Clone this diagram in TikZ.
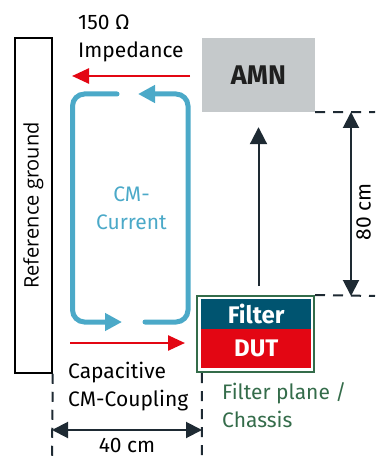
\documentclass[tikz,border=0pt]{standalone}
\usepackage{fontspec}
\setmainfont{Fira Sans}
\newfontfamily\groundfont{Open Sans}
\usepackage{graphicx}
\usetikzlibrary{positioning}
\usetikzlibrary{calc}
\usetikzlibrary{arrows.meta}
\definecolor{cmblue}{RGB}{75,169,200}
\definecolor{sigred}{RGB}{227,6,19}
\definecolor{amngray}{RGB}{197,201,203}
\definecolor{filterteal}{RGB}{0,84,112}
\definecolor{planegreen}{RGB}{52,108,74}
\definecolor{dimdark}{RGB}{30,42,51}

\tikzset{
    lbl/.style={font=\fontsize{21}{28}\selectfont, inner sep=0pt, align=left},
    boxlbl/.style={font=\bfseries\fontsize{24}{28}\selectfont, inner sep=0pt},
    guide/.style={dimdark, line width=2pt, dash pattern=on 10pt off 8pt},
    dimarrow/.style={dimdark, line width=2pt, {Triangle[length=16pt,width=16pt]}-{Triangle[length=16pt,width=16pt]}},
    uparrow/.style={dimdark, line width=2pt, -{Triangle[length=17pt,width=17pt]}},
    redarrow/.style={sigred, line width=2.5pt, -{Triangle[length=17pt,width=15pt]}},
    cmloop/.style={cmblue, line width=5pt, rounded corners=12pt, line cap=round, -{Triangle[length=17pt,width=17pt]}}
}

\begin{document}
\begin{tikzpicture}[x=1pt,y=-1pt]
    \useasboundingbox (0,0) rectangle (375,457);

    % reference ground plate
    \node[draw=black, line width=1.5pt, minimum width=37pt, minimum height=335pt, inner sep=0pt] (ground) at (33.5,205.5)
        {\rotatebox{90}{\groundfont\fontsize{20}{24}\selectfont Reference ground}};

    % AMN
    \node[boxlbl, font=\bfseries\fontsize{27}{30}\selectfont, fill=amngray, text=black!88, minimum width=113pt, minimum height=74pt] (amn) at (258.5,75) {AMN};

    % filter plane with filter and DUT on it
    \node[draw=planegreen, line width=2pt, minimum width=117pt, minimum height=76pt] (plane) at (255.5,334) {};
    \node[boxlbl, fill=filterteal, text=white, minimum width=110pt, minimum height=30pt] (filter) at (256.25,314) {Filter};
    \node[boxlbl, fill=sigred, text=white, minimum width=110pt, minimum height=39pt] (dut) at (256.25,348.5) {DUT};
    \node[lbl, anchor=north west, text=planegreen] (chassis) at (222,382) {Filter plane /\\Chassis};

    \draw[uparrow, shorten <=9pt, shorten >=15pt] (amn.south |- plane.north) -- (amn.south);

    % 80 cm between AMN and filter plane
    \coordinate (rimtop) at (375,112);
    \coordinate (rimbot) at (375,296);
    \coordinate (topdim) at (351,112);
    \coordinate (botdim) at (351,296);
    \draw[guide] (amn.south east) -- (rimtop);
    \draw[guide] (plane.north east) -- (rimbot);
    \draw[dimarrow] (topdim) -- (botdim);
    \node[lbl, rotate=90, anchor=base] (eighty) at (370.5,212) {80 cm};

    % 40 cm to the reference ground
    \coordinate (gndfoot) at (52,457);
    \coordinate (planefoot) at (202,457);
    \coordinate (fortyL) at (52,430);
    \coordinate (fortyR) at (202,430);
    \draw[guide] (ground.south east) -- (gndfoot);
    \draw[guide] (amn.west |- plane.south) -- (planefoot);
    \draw[dimarrow] (fortyL) -- (fortyR);
    \node[lbl, anchor=base] (forty) at (127,452.5) {40 cm};

    % impedance and coupling
    \coordinate (impR) at (190,76);
    \coordinate (impL) at (72,76);
    \draw[redarrow] (impR) -- (impL);
    \node[lbl, anchor=north west] (imp) at (78,15) {150 Ω\\Impedance};

    \coordinate (capL) at (70,343);
    \coordinate (capR) at (185,343);
    \draw[redarrow] (capL) -- (capR);
    \node[lbl, anchor=north west] (cap) at (68,362) {Capacitive\\CM-Coupling};

    % common mode current loop
    \draw[cmloop] (117,94) -- (72.5,94) -- (72.5,322) -- (122,322);
    \draw[cmloop] (145,322) -- (188,322) -- (188,94) -- (138,94);
    \node[lbl, align=center, text=cmblue, anchor=north] (cm) at (131.5,187) {CM-\\Current};
\end{tikzpicture}
\end{document}
